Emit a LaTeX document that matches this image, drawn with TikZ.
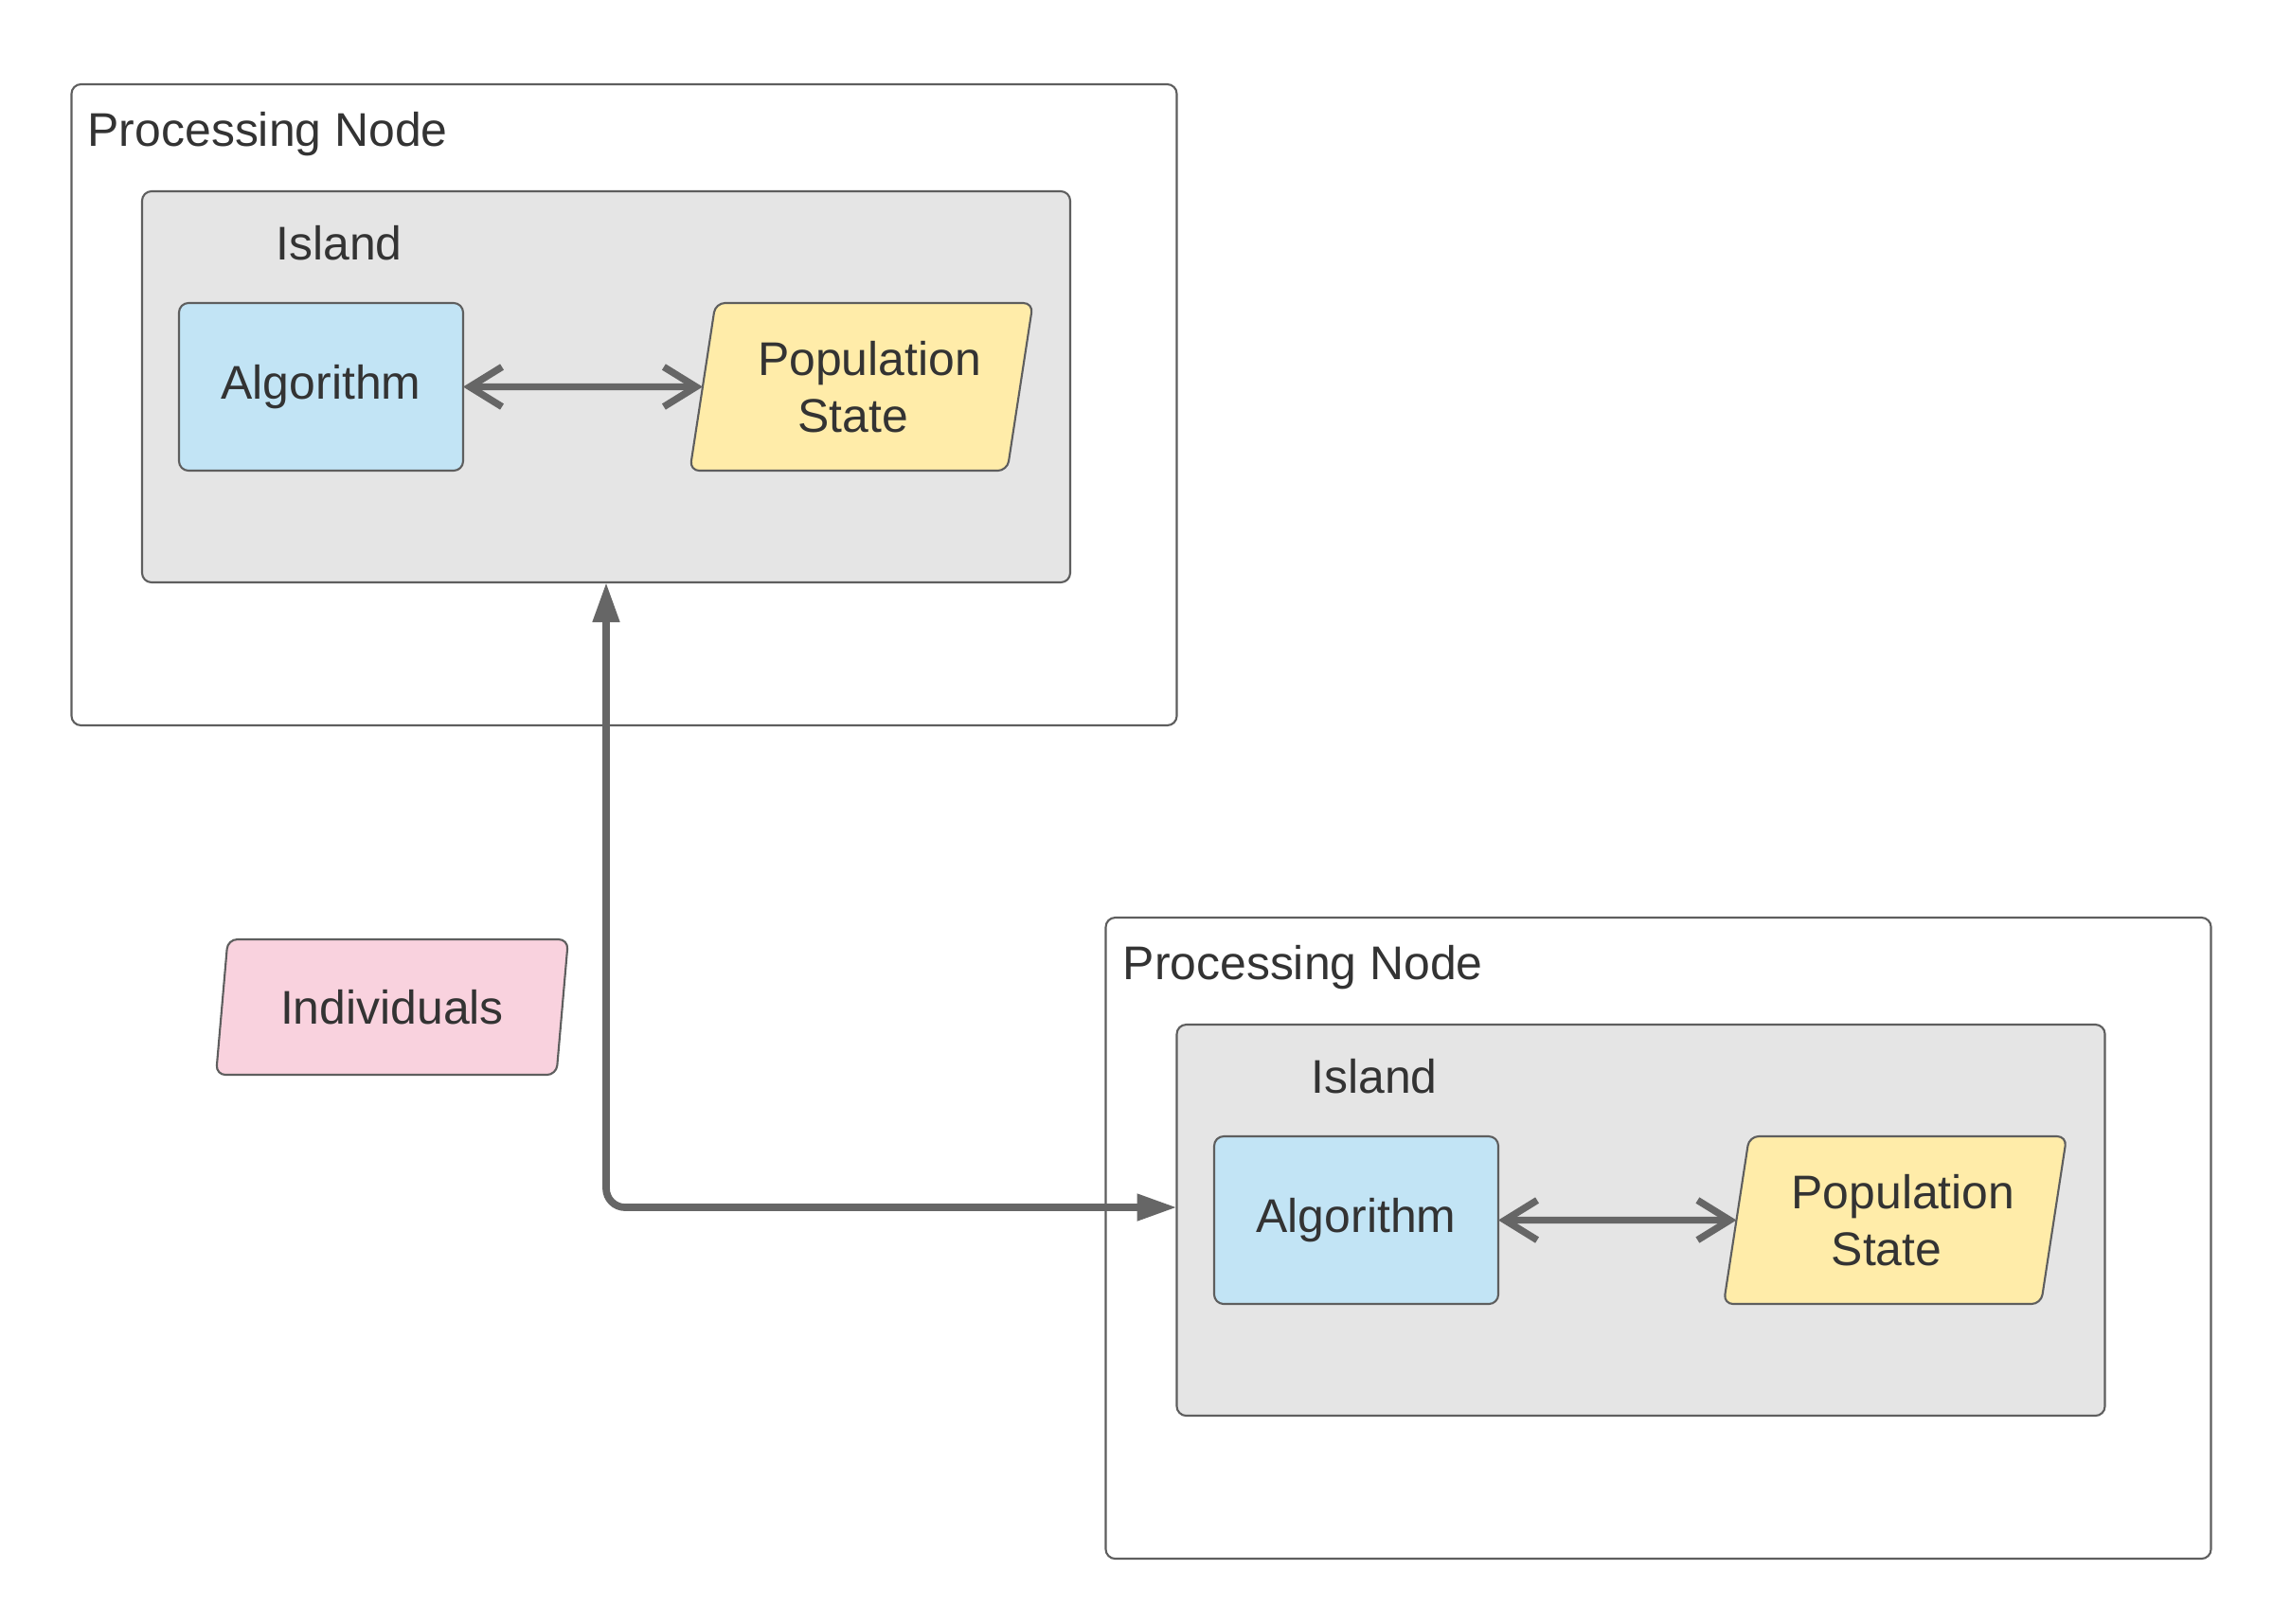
\documentclass[tikz,border=0pt]{standalone}
\usepackage{fontspec}
\setmainfont{Liberation Sans}
\usetikzlibrary{arrows.meta,shapes.geometric,calc}
\definecolor{linegray}{HTML}{5E5E5E}
\definecolor{arrowgray}{HTML}{666666}
\definecolor{textgray}{HTML}{333333}
\definecolor{islandgray}{HTML}{E5E5E5}
\definecolor{algoblue}{HTML}{C2E4F5}
\definecolor{popyellow}{HTML}{FFECA9}
\definecolor{indpink}{HTML}{F9D2DE}

\begin{document}
\begin{tikzpicture}[font=\fontsize{14.2}{17}\selectfont, text=textgray]
  \tikzstyle{frame}=[draw=linegray, line width=0.6pt, rounded corners=0.1cm, inner sep=0pt, outer sep=0pt]
  \tikzstyle{procnode}=[frame, fill=white, minimum width=11.67cm, minimum height=6.77cm]
  \tikzstyle{island}=[frame, fill=islandgray, minimum width=9.8cm, minimum height=4.13cm]
  \tikzstyle{algo}=[frame, fill=algoblue, minimum width=3cm, minimum height=1.77cm]
  \tikzstyle{para}=[frame, trapezium, trapezium left angle=77, trapezium right angle=103, trapezium stretches=true, align=center]
  \tikzstyle{pop}=[para, fill=popyellow, minimum width=3.63cm, minimum height=1.77cm]
  \tikzstyle{indiv}=[para, fill=indpink, minimum width=3.72cm, minimum height=1.43cm]
  \tikzstyle{duoarrow}=[draw=arrowgray, line width=2.1pt, {Straight Barb[sharp,length=0.34cm,width=0.42cm]}-{Straight Barb[sharp,length=0.34cm,width=0.42cm]}]
  \tikzstyle{migrate}=[draw=arrowgray, line width=2.2pt, rounded corners=0.2cm, {Triangle[length=0.42cm,width=0.27cm]}-{Triangle[length=0.42cm,width=0.27cm]}]
  \useasboundingbox (0,0) rectangle (24,-17.14);

  % first processing node
  \node[procnode] (pn1) at (6.59,-4.275) {};
  \node[anchor=west, inner sep=0pt] (pn1label) at (0.92,-1.42) {Processing Node};
  \node[island] (isl1) at (6.40,-4.085) {};
  \node (isl1label) at (3.58,-2.57) {Island};
  \node[algo] (alg1) at (3.39,-4.085) {Algorithm};
  \node[pop] (pop1) at (9.095,-4.085) {\hspace*{0.17cm}Population\\State\hspace*{0.18cm}};
  \draw[duoarrow] (alg1) -- (pop1);

  % second processing node
  \node[procnode] (pn2) at (17.51,-13.075) {};
  \node[anchor=west, inner sep=0pt] (pn2label) at (11.85,-10.22) {Processing Node};
  \node[island] (isl2) at (17.325,-12.885) {};
  \node (isl2label) at (14.51,-11.37) {Island};
  \node[algo] (alg2) at (14.32,-12.885) {Algorithm};
  \node[pop] (pop2) at (20.01,-12.885) {\hspace*{0.17cm}Population\\State\hspace*{0.18cm}};
  \draw[duoarrow] (alg2) -- (pop2);

  \node[indiv] (indiv) at (4.14,-10.635) {Individuals};

  % migration between the islands
  \coordinate (isl2in) at ($(isl2.west)+(0,0.135)$);
  \draw[migrate] (isl1.south) |- (isl2in);
\end{tikzpicture}
\end{document}
